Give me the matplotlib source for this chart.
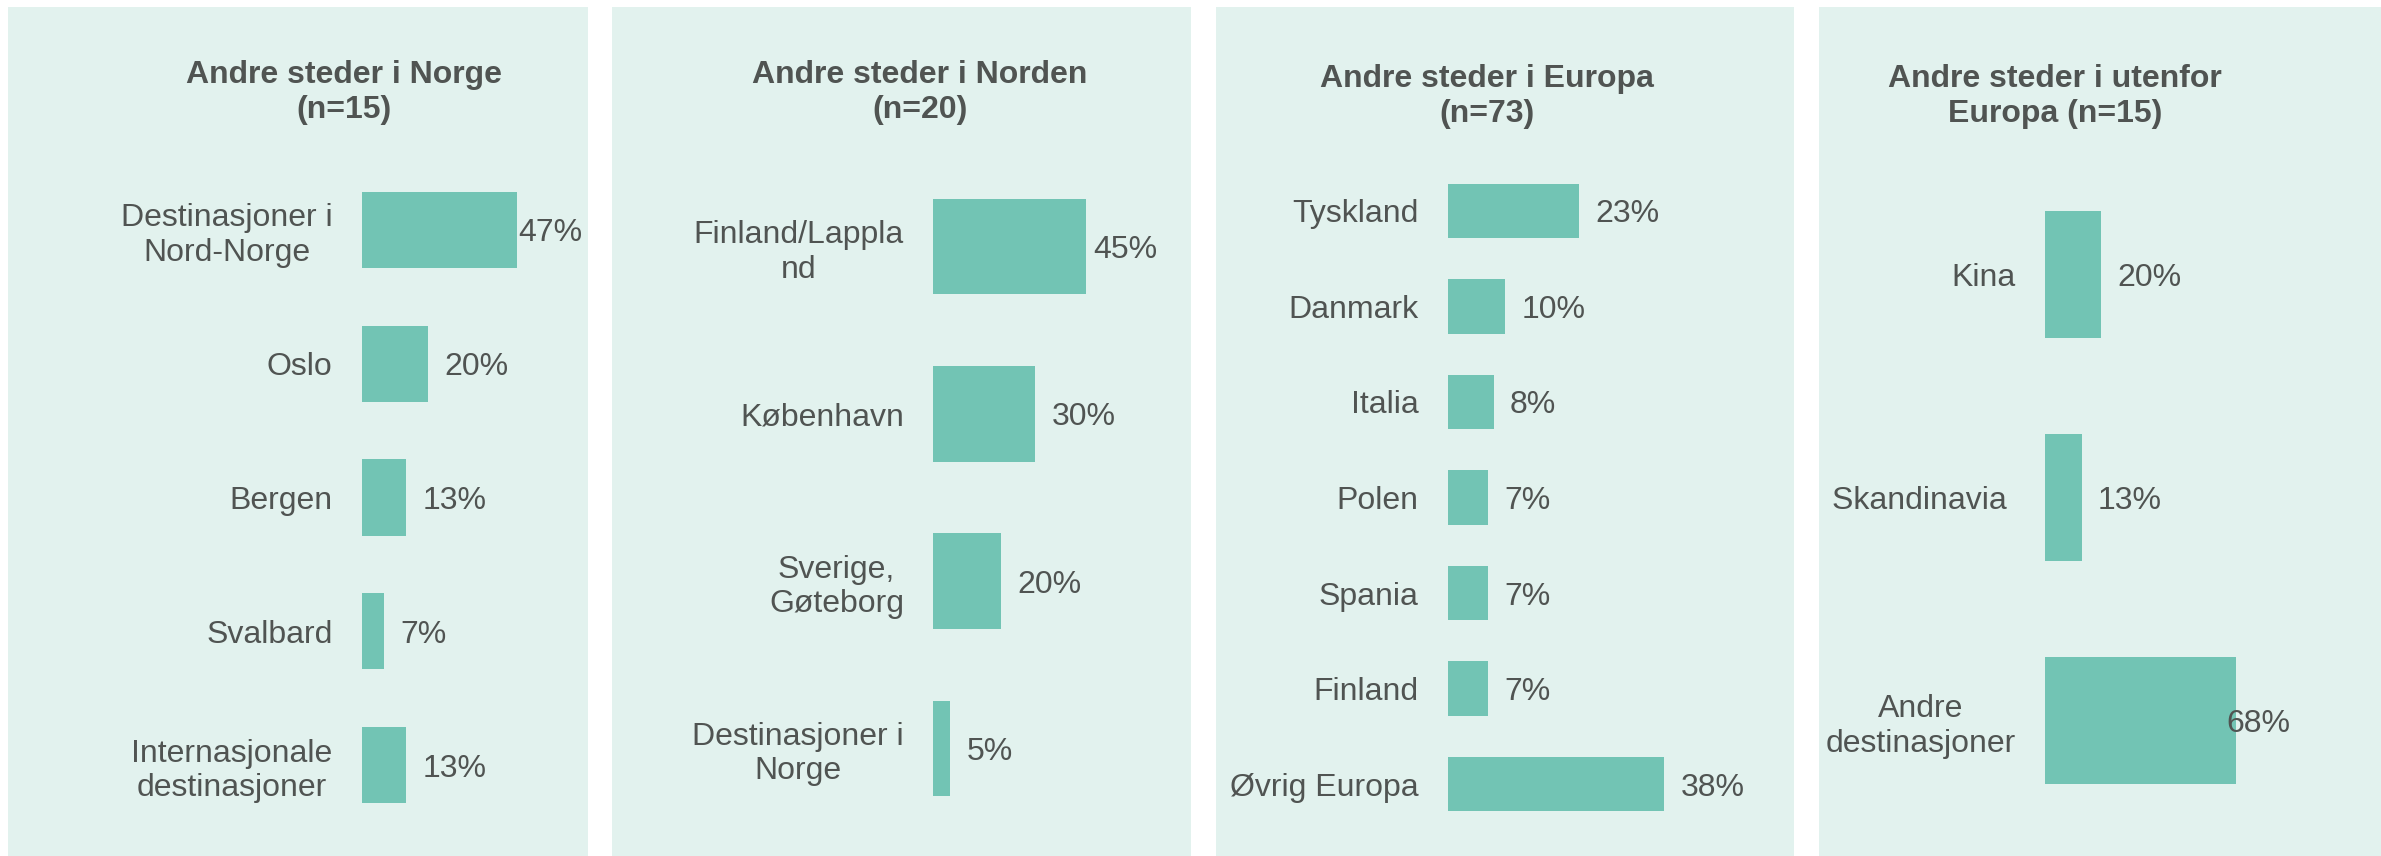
import matplotlib
matplotlib.use("Agg")
import matplotlib.pyplot as plt
from matplotlib.patches import Rectangle

# data
titles = ["Andre steder i Norge\n(n=15)",
          "Andre steder i Norden\n(n=20)",
          "Andre steder i Europa\n(n=73)",
          "Andre steder i utenfor\nEuropa (n=15)"]

norge_labels = ["Destinasjoner i\nNord-Norge", "Oslo", "Bergen", "Svalbard",
                "Internasjonale\ndestinasjoner"]
norge_values = [46.7, 20.0, 13.3, 6.7, 13.3]

norden_labels = ["Finland/Lappla\nnd", "København", "Sverige,\nGøteborg",
                 "Destinasjoner i\nNorge"]
norden_values = [45, 30, 20, 5]

europa_labels = ["Tyskland", "Danmark", "Italia", "Polen", "Spania", "Finland",
                 "Øvrig Europa"]
europa_values = [23, 10, 8, 7, 7, 7, 38]

utenfor_labels = ["Kina", "Skandinavia ", "Andre\ndestinasjoner"]
utenfor_values = [20, 13, 68]

all_labels = [norge_labels, norden_labels, europa_labels, utenfor_labels]
all_values = [norge_values, norden_values, europa_values, utenfor_values]

# layout (pixels of the 2381x856 image)
W, H = 2381, 856
panel_x = [(8, 588), (612, 1191), (1216, 1794), (1819, 2381)]
panel_top = 7
bar_left = [361.6, 933.2, 1448, 2045]
plot_right = [582, 1157, 1760, 2290]
px_per_pct = [3.33, 3.39, 5.69, 2.81]
plot_top, plot_bottom = 163, 832
title_x = [344, 920, 1487, 2055]
title_top = [60, 60, 64, 64]

bg_color = "#E2F2EE"
bar_color = "#72C4B4"
text_color = "#505452"
fsize = 23

plt.rcParams['font.family'] = ['Liberation Sans', 'DejaVu Sans']
plt.rcParams['font.size'] = fsize

fig = plt.figure(figsize=(W / 100, H / 100), dpi=100)
fig.patch.set_facecolor("white")

value_texts = []
cap_off = -0.716 * fsize / 2  # centre the digits on the bar
for k in range(4):
    x0, x1 = panel_x[k]
    fig.add_artist(Rectangle((x0 / W, 0), (x1 - x0) / W, (H - panel_top) / H,
                             transform=fig.transFigure, facecolor=bg_color,
                             edgecolor="none", zorder=-5))

    labels = all_labels[k]
    values = all_values[k]
    n = len(values)
    width_px = plot_right[k] - bar_left[k]
    ax = fig.add_axes([bar_left[k] / W, (H - plot_bottom) / H,
                       width_px / W, (plot_bottom - plot_top) / H])
    ax.set_facecolor("none")
    ax.barh(range(n), values, height=0.57, color=bar_color)
    ax.set_xlim(0, width_px / px_per_pct[k])
    ax.set_ylim(n - 0.5, -0.5)
    ax.set_yticks(range(n))
    ax.set_yticklabels(labels, ha="right", multialignment="center")
    ax.tick_params(axis="y", length=0, pad=21, colors=text_color)
    ax.set_xticks([])
    for s in ax.spines.values():
        s.set_visible(False)

    for i, v in enumerate(values):
        t = ax.annotate(f"{round(v)}%", (v, i), xytext=(11.9, cap_off),
                        textcoords="offset points", ha="left", va="baseline",
                        color=text_color, annotation_clip=False)
        value_texts.append((t, plot_right[k]))

    fig.text(title_x[k] / W, 1 - title_top[k] / H, titles[k], ha="center",
             va="top", multialignment="center", fontweight="bold",
             color=text_color)

# keep value labels inside the plot area, like the original does
fig.canvas.draw()
renderer = fig.canvas.get_renderer()
for t, limit in value_texts:
    bb = t.get_window_extent(renderer)
    if bb.x1 > limit:
        t.xyann = (11.9 + (limit - bb.x1) * 72 / 100, cap_off)

fig.savefig("out.png", dpi=100, facecolor="white")
